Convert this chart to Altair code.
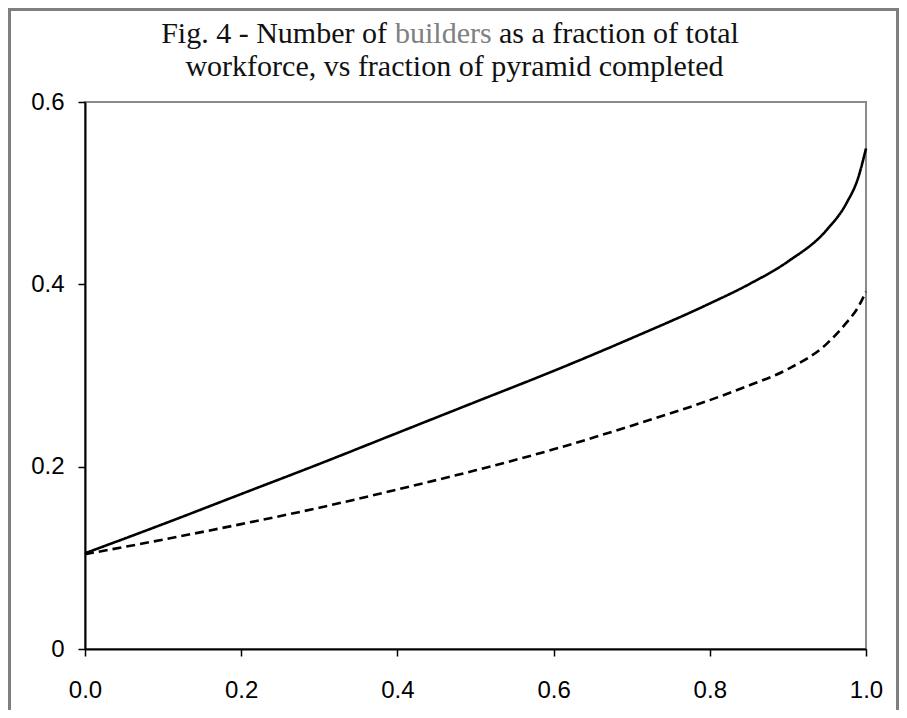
import altair as alt
import pandas as pd

# fraction of pyramid completed
frac_done = [0, 0.1, 0.2, 0.3, 0.4, 0.5, 0.6, 0.7, 0.8, 0.85, 0.9, 0.95, 0.975, 0.99, 1.0]
# builders / total workforce, solid curve
builders_solid = [0.105, 0.137, 0.170, 0.203, 0.237, 0.271, 0.305, 0.341, 0.379, 0.400, 0.425, 0.460, 0.489, 0.517, 0.549]
# builders / total workforce, dashed curve
builders_dashed = [0.104, 0.120, 0.137, 0.155, 0.175, 0.196, 0.219, 0.245, 0.273, 0.289, 0.307, 0.335, 0.358, 0.375, 0.392]

series_names = ["solid", "dashed"]
x_ticks = [0.0, 0.2, 0.4, 0.6, 0.8, 1.0]
y_ticks = [0.0, 0.2, 0.4, 0.6]

rows = []
for name, vals in zip(series_names, [builders_solid, builders_dashed]):
    for xv, yv in zip(frac_done, vals):
        rows.append({"series": name, "x": xv, "y": yv})
df = pd.DataFrame(rows)

W, H = 781, 547
LABEL_FONT = "Liberation Sans"
TITLE_FONT = "Liberation Serif"

lines = alt.Chart(df).mark_line(interpolate="monotone", strokeWidth=2.6, color="black").encode(
    x=alt.X("x:Q", scale=alt.Scale(domain=[0, 1], nice=False),
            axis=alt.Axis(values=x_ticks, format=".1f", title=None, grid=False,
                          labelFlush=False, labelOverlap=False,
                          tickSize=7, labelPadding=22, labelFontSize=24, labelFont=LABEL_FONT,
                          labelColor="black", domainColor="black", domainWidth=2,
                          tickColor="black", tickWidth=1.5)),
    y=alt.Y("y:Q", scale=alt.Scale(domain=[0, 0.6], nice=False),
            axis=alt.Axis(values=y_ticks, title=None, grid=False,
                          labelFlush=False, labelOverlap=False,
                          labelExpr="datum.value == 0 ? '0' : format(datum.value, '.1f')",
                          tickSize=7, labelPadding=14, labelFontSize=24, labelFont=LABEL_FONT,
                          labelColor="black", domainColor="black", domainWidth=2,
                          tickColor="black", tickWidth=1.5)),
    strokeDash=alt.StrokeDash("series:N", scale=alt.Scale(domain=series_names, range=[[1, 0], [9, 5]]),
                              legend=None),
    detail="series:N",
)

title_style = dict(font=TITLE_FONT, fontSize=30, baseline="alphabetic", color="#111111")
t1a = alt.Chart(pd.DataFrame({"t": ["Fig. 4 - Number of"]})).mark_text(align="right", **title_style).encode(
    text="t:N", x=alt.value(302), y=alt.value(-59))
t1b = alt.Chart(pd.DataFrame({"t": ["builders"]})).mark_text(align="left", **{**title_style, "color": "#808080"}).encode(
    text="t:N", x=alt.value(310), y=alt.value(-59))
t1c = alt.Chart(pd.DataFrame({"t": ["as a fraction of total"]})).mark_text(align="left", **title_style).encode(
    text="t:N", x=alt.value(414), y=alt.value(-59))
t2 = alt.Chart(pd.DataFrame({"t": ["workforce, vs fraction of pyramid completed"]})).mark_text(align="center", **title_style).encode(
    text="t:N", x=alt.value(369.5), y=alt.value(-26))

frame_df = pd.DataFrame({"k": [0]})
frame_style = dict(color="#7f7f7f", strokeWidth=3)
f_left = alt.Chart(frame_df).mark_rule(**frame_style).encode(
    x=alt.value(-75.5), y=alt.value(-92.5), y2=alt.value(615))
f_top = alt.Chart(frame_df).mark_rule(**frame_style).encode(
    x=alt.value(-77), x2=alt.value(814), y=alt.value(-92.5))
f_right = alt.Chart(frame_df).mark_rule(**frame_style).encode(
    x=alt.value(812.5), y=alt.value(-92.5), y2=alt.value(615))

chart = alt.layer(lines, t1a, t1b, t1c, t2, f_left, f_top, f_right).properties(
    width=W, height=H,
    padding={"left": 77, "top": 94, "right": 33, "bottom": 61},
    autosize=alt.AutoSizeParams(type="none"),
    background="white",
).configure_view(stroke="#8a8a8a", strokeWidth=2)

chart.save("out.html", embed_options={"renderer": "svg", "actions": False})
